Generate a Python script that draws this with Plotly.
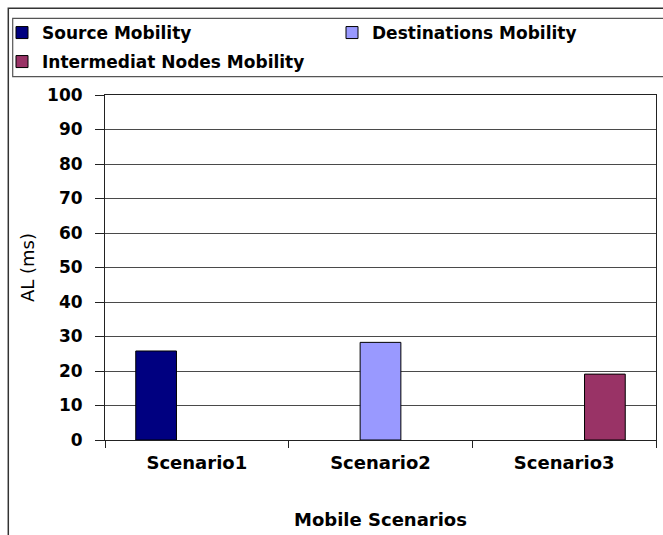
import plotly.graph_objects as go

categories = ["Scenario1", "Scenario2", "Scenario3"]
series_names = ["Source Mobility", "Destinations Mobility", "Intermediat Nodes Mobility"]
source_vals = [25.8, None, None]
dest_vals = [None, 28.3, None]
inter_vals = [None, None, 19.1]
colors = ["#000080", "#9999FF", "#993366"]
legend_refs = ["legend", "legend", "legend2"]
y_ticks = [0, 10, 20, 30, 40, 50, 60, 70, 80, 90, 100]

FONT = "DejaVu Sans"

fig = go.Figure()
for name, vals, col, lg in zip(series_names, [source_vals, dest_vals, inter_vals], colors, legend_refs):
    fig.add_trace(go.Bar(
        x=categories, y=vals, name=name, legend=lg,
        marker=dict(color=col, line=dict(color="#000000", width=1)),
    ))

W, H = 663, 535
L, R, T, B = 105, 7, 95, 95
pw, ph = W - L - R, H - T - B

def px(x):
    return (x - L) / pw

def py(y):
    return (H - B - y) / ph

shapes = [
    dict(type="rect", xref="paper", yref="paper", x0=px(8.3), x1=px(720), y0=py(620), y1=py(8.3),
         line=dict(color="#333333", width=1.5), fillcolor="rgba(0,0,0,0)", layer="above"),
    dict(type="rect", xref="paper", yref="paper", x0=px(12.7), x1=px(720), y0=py(76.7), y1=py(18.3),
         line=dict(color="#555555", width=1.2), fillcolor="rgba(0,0,0,0)", layer="above"),
]

legend_common = dict(
    orientation="h", xanchor="left", yanchor="middle",
    xref="paper", yref="paper",
    font=dict(family=FONT, size=17, color="#000000", weight="bold"),
    entrywidth=285, entrywidthmode="pixels",
    bgcolor="rgba(0,0,0,0)", borderwidth=0, itemclick=False,
    traceorder="normal",
)

fig.update_layout(
    width=W, height=H,
    margin=dict(l=L, r=R, t=T, b=B, autoexpand=False),
    paper_bgcolor="white", plot_bgcolor="white",
    barmode="group", bargap=0.335, bargroupgap=0,
    font=dict(family=FONT, color="#000000"),
    showlegend=True,
    legend=dict(legend_common, x=px(2), y=py(33)),
    legend2=dict(legend_common, x=px(2), y=py(62)),
    xaxis=dict(
        type="category", showgrid=False, showline=True, linecolor="#222222", linewidth=1,
        mirror=True, ticks="outside", tickson="boundaries", ticklen=7, tickcolor="#222222",
        tickfont=dict(family=FONT, size=18, color="#000000", weight="bold"),
        ticklabelstandoff=6,
        title=dict(text="Mobile Scenarios", standoff=41,
                   font=dict(family=FONT, size=18, color="#000000", weight="bold")),
        automargin=False,
    ),
    yaxis=dict(
        range=[0, 100], tickvals=y_ticks, showgrid=True, gridcolor="#4a4a4a", gridwidth=1,
        showline=True, linecolor="#222222", linewidth=1, mirror=True,
        ticks="outside", ticklen=9, tickcolor="#222222",
        tickfont=dict(family=FONT, size=17, color="#000000", weight="bold"),
        ticklabelstandoff=9,
        zeroline=False,
        title=dict(text="AL (ms)", standoff=7,
                   font=dict(family=FONT, size=18, color="#000000")),
        automargin=False,
    ),
    shapes=shapes,
)

fig.write_html(
    "out.html",
    config={"displayModeBar": False},
    post_script="document.body.style.margin='0';document.body.style.padding='0';",
)
